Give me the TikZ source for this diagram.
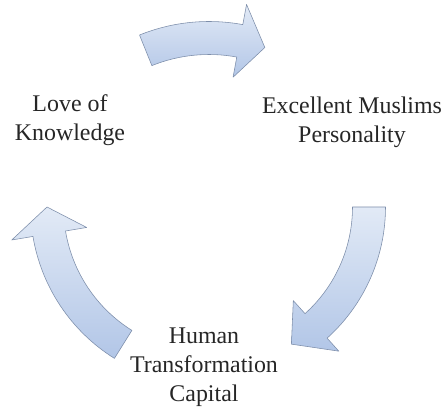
\documentclass[tikz,border=0pt]{standalone}
\usepackage{fontspec}
\setmainfont{Liberation Serif}
\usepackage{tikz}
\definecolor{arrowtop}{RGB}{226,234,246}
\definecolor{arrowbottom}{RGB}{178,198,231}
\definecolor{arrowline}{RGB}{125,142,170}

\begin{document}
\begin{tikzpicture}[x=0.025cm,y=0.025cm,
  cyclearrow/.style={top color=arrowtop,bottom color=arrowbottom,draw=arrowline,line width=0.4pt,line join=round},
  steptext/.style={align=center,text=black!85,font=\fontsize{17}{20.5}\selectfont}]
\useasboundingbox (0,0) rectangle (443,408);
\coordinate (c) at (209,201);

% the three curved arrows: tail angle/base of head/tip/radius/head half width
\foreach \a/\b/\t/\r/\h in {112/79.5/70.7/169/37, 0/-48/-59/160/34, 238/189.5/180/162/38}
{
\draw[cyclearrow,shift={(c)}]
(\a:{\r-16.5}) arc[start angle=\a,end angle=\b,radius=\r-16.5]
-- (\b:{\r-\h}) -- (\t:\r) -- (\b:{\r+\h}) -- (\b:{\r+16.5})
arc[start angle=\b,end angle=\a,radius=\r+16.5] -- cycle;
}
% the labels
\node[steptext] (love) at (70,288) {Love of\\Knowledge};
\node[steptext] (excellent) at (352,286) {Excellent Muslims\\Personality};
\node[steptext] (human) at (204,41) {Human\\Transformation\\Capital};
\end{tikzpicture}
\end{document}
